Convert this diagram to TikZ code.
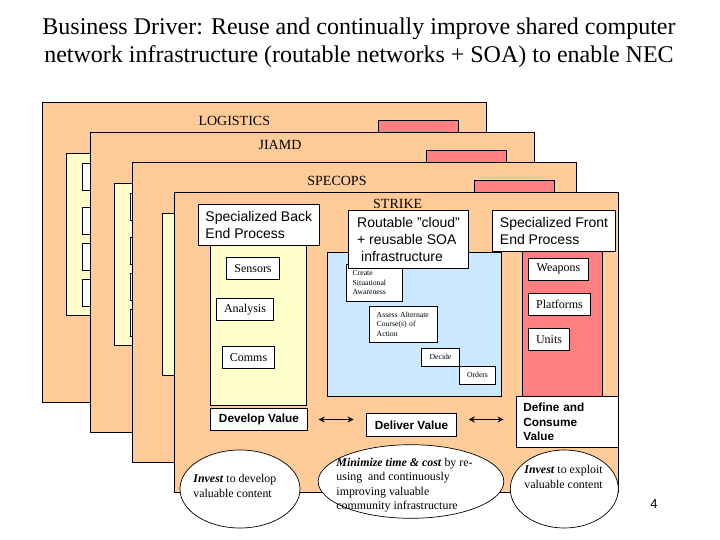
\documentclass[tikz,border=0pt]{standalone}
\usepackage{fontspec}
\setmainfont{Liberation Serif}
\setsansfont{Liberation Sans}
\usepackage{xcolor}
\usepackage{tikz}
\usetikzlibrary{arrows.meta, shapes.geometric}

\definecolor{panelorange}{HTML}{FFCC99}
\definecolor{backyellow}{HTML}{FFFFCC}
\definecolor{cloudblue}{HTML}{CCE8FF}
\definecolor{frontred}{HTML}{FF8080}

\begin{document}
\begin{tikzpicture}[
            x=1pt, y=-1pt,
            every node/.style={inner sep=0pt, line width=0.9pt},
            invisible/.style={draw=none, fill=none, align=left},
            panel/.style={draw, fill=panelorange, minimum width=444.4pt, minimum height=300pt},
            backcol/.style={draw, fill=backyellow, minimum width=96.4pt, minimum height=162pt},
            frontcol/.style={draw, fill=frontred, minimum width=80.4pt, minimum height=174pt},
            cloudcol/.style={draw, fill=cloudblue, minimum width=174.4pt, minimum height=144pt},
            rowbox/.style={draw, fill=white, minimum width=50pt, minimum height=27pt},
            whitebox/.style={draw, fill=white, align=left, font=\fontsize{12}{14}\selectfont},
            sansbox/.style={whitebox, font=\sffamily\fontsize{14}{17}\selectfont},
            valuebox/.style={whitebox, font=\sffamily\bfseries\fontsize{11.8}{14.5}\selectfont},
            tinybox/.style={whitebox, font=\fontsize{7.7}{9.7}\selectfont},
            oval/.style={draw, fill=white, ellipse, line width=0.7pt},
            ovaltext/.style={invisible, font=\fontsize{11.9}{14.5}\selectfont},
            paneltitle/.style={invisible, font=\fontsize{14}{15}\selectfont},
            valuearrow/.style={{Stealth[length=6pt, width=6pt]}-{Stealth[length=6pt, width=6pt]}, line width=1.3pt},
        ]
        \useasboundingbox (0,0) rectangle (720,540);

        \node[invisible, font=\fontsize{24}{28}\selectfont, align=center] (heading) at (359,43)
            {Business Driver: Reuse and continually improve shared computer\\
             network infrastructure (routable networks + SOA) to enable NEC};

        % logistics
        \node[panel] (logistics) at (264.7,252.5) {};
        \node[paneltitle] (logisticsname) at (234.3,120.7) {LOGISTICS};
        \node[backcol] (logisticsback) at (114.5,234.3) {};
        \node[rowbox] (logrow1) at (107.3,176.8) {};
        \node[rowbox] (logrow2) at (107.3,220.8) {};
        \node[rowbox] (logrow3) at (107.3,256.8) {};
        \node[rowbox] (logrow4) at (107.3,292.8) {};
        \node[frontcol] (logisticsfront) at (418.5,207.3) {};

        % jiamd
        \node[panel] (jiamd) at (312.5,282.3) {};
        \node[paneltitle] (jiamdname) at (280,145) {JIAMD};
        \node[backcol] (jiamdback) at (162.5,264.3) {};
        \node[rowbox] (jiarow1) at (155.3,206.8) {};
        \node[rowbox] (jiarow2) at (155.3,250.8) {};
        \node[rowbox] (jiarow3) at (155.3,286.8) {};
        \node[rowbox] (jiarow4) at (155.3,322.8) {};
        \node[frontcol] (jiamdfront) at (466.5,237.3) {};

        % specops
        \node[panel] (specops) at (354.5,312.3) {};
        \node[paneltitle] (specopsname) at (337,181) {SPECOPS};
        \node[backcol] (specopsback) at (210.5,294.3) {};
        \node[frontcol] (specopsfront) at (514.5,267.3) {};

        % strike
        \node[panel] (strike) at (396.5,342.3) {};
        \node[paneltitle] (strikename) at (397.7,204.3) {STRIKE};
        \node[backcol] (strikeback) at (258.5,324.3) {};
        \node[cloudcol] (strikecloud) at (414.5,324.3) {};
        \node[frontcol] (strikefront) at (562.5,309.3) {};

        \node[whitebox, minimum width=53.4pt, minimum height=22.4pt] (sensors) at (253,268.5) {Sensors};
        \node[whitebox, minimum width=57.4pt, minimum height=22.4pt] (analysis) at (245,309.5) {Analysis};
        \node[whitebox, minimum width=52.4pt, minimum height=22.4pt] (comms) at (248.5,357.5) {Comms};

        \node[tinybox, text width=43.6pt, minimum width=56.4pt, minimum height=37.3pt] (create) at (374.5,282.6)
            {Create\\Situational\\Awareness};
        \node[tinybox, text width=53.6pt, minimum width=68.4pt, minimum height=36.3pt] (assess) at (403.5,324.2)
            {Assess Alternate\\Course(s) of\\Action};
        \node[tinybox, minimum width=38.4pt, minimum height=18pt] (decide) at (440.5,357.3) {Decide};
        \node[tinybox, minimum width=36.4pt, minimum height=18pt] (orders) at (477.5,375) {Orders};

        \node[whitebox, minimum width=60.4pt, minimum height=22pt] (weapons) at (558.5,269.3) {Weapons};
        \node[whitebox, minimum width=62.4pt, minimum height=22.4pt] (platforms) at (559.5,304.5) {Platforms};
        \node[whitebox, minimum width=41.4pt, minimum height=22.4pt] (units) at (549,339.5) {Units};

        \node[sansbox, minimum width=121pt, minimum height=41.4pt] (backprocess) at (258.8,225)
            {Specialized Back\\End Process};
        \node[sansbox, minimum width=120.4pt, minimum height=58pt] (routable) at (408.5,239.3)
            {Routable "cloud"\\+ reusable SOA\\\hspace{4pt}infrastructure};
        \node[sansbox, minimum width=123.4pt, minimum height=41.4pt] (frontprocess) at (554,231)
            {Specialized Front\\End Process};

        \node[valuebox, minimum width=97.4pt, minimum height=22.4pt] (develop) at (259,419.5) {Develop Value};
        \node[valuebox, minimum width=90.4pt, minimum height=23pt] (deliver) at (411.5,424.8) {Deliver Value};
        \node[valuebox, text width=88pt, minimum width=102pt, minimum height=51pt] (define) at (567.3,421.8)
            {Define and\\Consume\\Value};

        \draw[valuearrow, shorten <=10.5pt, shorten >=12.3pt] (develop.east) -- (develop.east -| deliver.west);
        \draw[valuearrow, shorten <=11.6pt, shorten >=12.3pt] (deliver.east |- develop.east) -- (define.west |- develop.east);

        \node[oval, minimum width=120pt, minimum height=78pt] (investback) at (240,489) {};
        \node[oval, minimum width=185.6pt, minimum height=73.6pt] (minimize) at (411,481.5) {};
        \node[oval, minimum width=108pt, minimum height=78pt] (investfront) at (564.3,489) {};

        \node[ovaltext, anchor=west] (investbacktext) at (193,486)
            {\textbf{\textit{Invest}} to develop\\valuable content};
        \node[ovaltext, anchor=west] (minimizetext) at (336,485)
            {\textbf{\textit{Minimize time \& cost}} by re-\\using\ \ and continuously\\improving valuable\\community infrastructure};
        \node[ovaltext, anchor=west] (investfronttext) at (524,477)
            {\textbf{\textit{Invest}} to exploit\\valuable content};

        \node[invisible, font=\sffamily\fontsize{13}{14}\selectfont] (pagenum) at (654,504) {4};
        \end{tikzpicture}
\end{document}
